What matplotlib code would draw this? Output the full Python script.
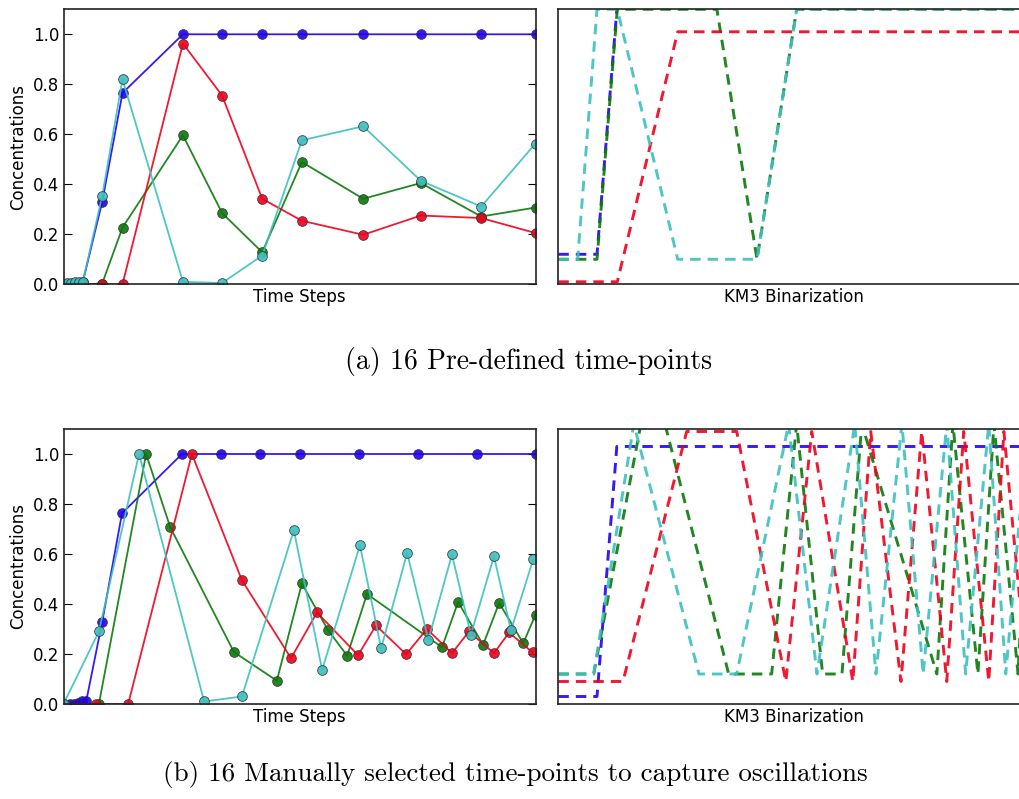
import matplotlib
matplotlib.use("Agg")
import matplotlib.pyplot as plt

# (a) pre-defined time points, shared by all four species
t_a = [0, 0.8, 1.6, 2.4, 3.2, 4.1, 8.2, 12.5, 25.3, 33.6, 42.1, 50.5, 63.5, 75.7, 88.5, 100]
blue_a = [0, 0, 0, 0, 0.005, 0.01, 0.33, 0.765, 1, 1, 1, 1, 1, 1, 1, 1]
green_a = [0, 0, 0, 0, 0, 0, 0.003, 0.227, 0.596, 0.285, 0.128, 0.489, 0.342, 0.405, 0.271, 0.307]
red_a = [0, 0, 0, 0, 0, 0, 0, 0, 0.963, 0.755, 0.342, 0.254, 0.198, 0.275, 0.265, 0.205]
cyan_a = [0, 0.005, 0.005, 0.01, 0.01, 0.01, 0.354, 0.82, 0.01, 0.005, 0.115, 0.576, 0.632, 0.414, 0.311, 0.563]
# KM3 binarization of the above
blue_a_bin = [0, 0, 0, 0, 0, 0, 0, 1, 1, 1, 1, 1, 1, 1, 1, 1]
green_a_bin = [0, 0, 0, 0, 0, 0, 0, 1, 1, 1, 0, 1, 1, 1, 1, 1]
red_a_bin = [0, 0, 0, 0, 0, 0, 0, 0, 1, 1, 1, 1, 1, 1, 1, 1]
cyan_a_bin = [0, 0, 0, 0, 0, 0, 1, 1, 0, 0, 0, 1, 1, 1, 1, 1]

# (b) manually selected time points, one set per species
t_blue_b = [0, 1.4, 2.2, 3.1, 3.9, 4.8, 8.2, 12.4, 25.1, 33.3, 41.6, 50.0, 62.7, 75.2, 87.6, 100]
blue_b = [0, 0, 0, 0.005, 0.01, 0.01, 0.329, 0.763, 1, 1, 1, 1, 1, 1, 1, 1]
t_green_b = [0, 7.5, 17.5, 22.6, 36.1, 45.2, 50.5, 56.0, 60.1, 64.3, 80.2, 83.6, 88.9, 92.3, 97.4, 100]
green_b = [0, 0, 1.0, 0.708, 0.208, 0.093, 0.482, 0.297, 0.193, 0.44, 0.227, 0.408, 0.237, 0.404, 0.243, 0.357]
t_red_b = [0, 6.9, 13.7, 27.2, 37.8, 48.2, 53.7, 62.4, 66.2, 72.6, 77.0, 82.3, 85.9, 91.2, 94.4, 99.4]
red_b = [0, 0, 0, 1.0, 0.495, 0.183, 0.366, 0.195, 0.314, 0.199, 0.3, 0.203, 0.29, 0.203, 0.286, 0.206]
t_cyan_b = [0, 7.5, 16.0, 29.8, 37.8, 48.8, 54.8, 62.8, 67.3, 72.8, 77.3, 82.3, 86.3, 91.2, 94.8, 99.5]
cyan_b = [0, 0.29, 1.0, 0.01, 0.03, 0.695, 0.136, 0.635, 0.223, 0.604, 0.257, 0.598, 0.277, 0.591, 0.294, 0.578]
blue_b_bin = [0, 0, 0, 0, 0, 0, 0, 1, 1, 1, 1, 1, 1, 1, 1, 1]
green_b_bin = [0, 0, 1, 1, 0, 0, 1, 0, 0, 1, 0, 1, 0, 1, 0, 1]
red_b_bin = [0, 0, 0, 1, 1, 0, 1, 0, 1, 0, 1, 0, 1, 0, 1, 0]
cyan_b_bin = [0, 0, 1, 0, 0, 1, 0, 1, 0, 1, 0, 1, 0, 1, 0, 1]

# small vertical shifts so the binarized curves don't sit on top of each other
shift_a = {"b": 0.12, "g": 0.10, "r": 0.01, "c": 0.10}
shift_b = {"b": 0.03, "g": 0.12, "r": 0.09, "c": 0.12}

colors = {"b": "#2200f0", "g": "#0a7a0a", "r": "#f0001a", "c": "#3cc0c0"}


def conc_panel(ax, series):
    for key, t, y in series:
        ax.plot(t, y, "-o", color=colors[key], lw=1.3, ms=7, mec="#333333", mew=0.6, alpha=0.9)
    ax.set_xlim(0, 100)
    ax.set_ylim(0, 1.1)
    ax.set_xticks([])
    ax.set_yticks([0, 0.2, 0.4, 0.6, 0.8, 1.0])
    ax.set_yticklabels(["0.0", "0.2", "0.4", "0.6", "0.8", "1.0"])
    ax.tick_params(axis="y", direction="in", length=5.5, width=0.8, right=True, pad=3, labelsize=12)
    ax.set_ylabel("Concentrations", fontsize=12, labelpad=4)
    ax.set_xlabel("Time Steps", fontsize=12, labelpad=3)


def bin_panel(ax, series, shift):
    for key, t, y in series:
        ax.plot(t, [v + shift[key] for v in y], color=colors[key], lw=2.1,
                dashes=(3.6, 2.4), alpha=0.9)
    ax.set_xlim(0, 100)
    ax.set_ylim(0, 1.1)
    ax.set_xticks([])
    ax.set_yticks([])
    ax.set_xlabel("KM3 Binarization", fontsize=12, labelpad=3)


fig = plt.figure(figsize=(10.19, 7.99), dpi=100)
w = 472 / 1019
h = 275 / 799
ax1 = fig.add_axes([63.5 / 1019, 0.6442, w, h])
ax2 = fig.add_axes([558.3 / 1019, 0.6442, w, h])
ax3 = fig.add_axes([63.5 / 1019, 0.1189, w, h])
ax4 = fig.add_axes([558.3 / 1019, 0.1189, w, h])

for ax in (ax1, ax2, ax3, ax4):
    for s in ax.spines.values():
        s.set_linewidth(1.2)
        s.set_color("#222222")

conc_panel(ax1, [("b", t_a, blue_a), ("g", t_a, green_a), ("r", t_a, red_a), ("c", t_a, cyan_a)])
bin_panel(ax2, [("b", t_a, blue_a_bin), ("g", t_a, green_a_bin), ("r", t_a, red_a_bin), ("c", t_a, cyan_a_bin)], shift_a)
conc_panel(ax3, [("b", t_blue_b, blue_b), ("g", t_green_b, green_b), ("r", t_red_b, red_b), ("c", t_cyan_b, cyan_b)])
bin_panel(ax4, [("b", t_blue_b, blue_b_bin), ("g", t_green_b, green_b_bin), ("r", t_red_b, red_b_bin), ("c", t_cyan_b, cyan_b_bin)], shift_b)

fig.text(529 / 1019, 1 - 362 / 799, "(a) 16 Pre-defined time-points", fontsize=20,
         fontfamily="cmr10", ha="center", va="center")
fig.text(515 / 1019, 1 - 775 / 799, "(b) 16 Manually selected time-points to capture oscillations",
         fontsize=19.5, fontfamily="cmr10", ha="center", va="center")

fig.savefig("out.png", dpi=100)
